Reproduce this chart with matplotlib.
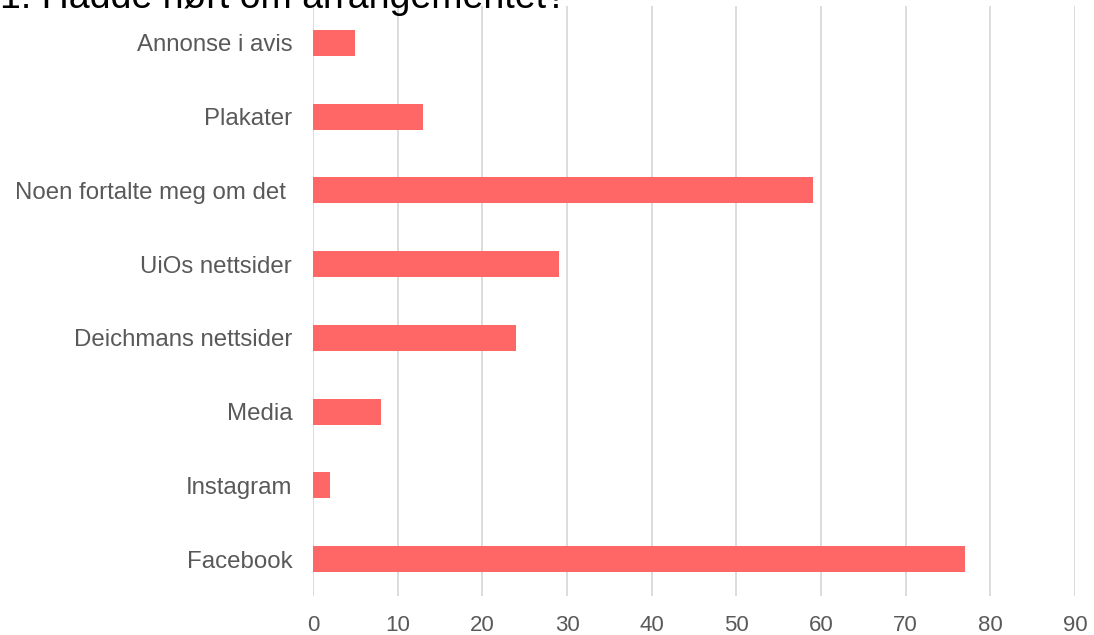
import matplotlib
matplotlib.use('Agg')
from matplotlib import pyplot as plt

plt.rcParams['font.family'] = ['Liberation Sans', 'DejaVu Sans']

kategorier = ['Facebook', 'Instagram', 'Media', 'Deichmans nettsider', 'UiOs nettsider',
              'Noen fortalte meg om det ', 'Plakater', 'Annonse i avis']
antall = [77, 2, 8, 24, 29, 59, 13, 5]
xticks = [0, 10, 20, 30, 40, 50, 60, 70, 80, 90]
tittel = '1. Hadde hørt om arrangementet?'

fig = plt.figure(figsize=(10.94, 6.35), dpi=100)
ax = fig.add_axes([313 / 1094, 39 / 635, 762 / 1094, 590 / 635])

ax.barh(range(len(kategorier)), antall, height=0.35, color='#FF6666', zorder=3)
ax.set_ylim(-0.5, len(kategorier) - 0.5)
ax.set_xlim(0, 90)
ax.set_yticks(range(len(kategorier)))
ax.set_yticklabels(kategorier)
ax.set_xticks(xticks)

ax.grid(axis='x', color='#D9D9D9', linewidth=1.3, zorder=0)
for s in ax.spines.values():
    s.set_visible(False)
ax.tick_params(axis='y', length=0, pad=15, labelsize=17.3, labelcolor='#595959')
ax.tick_params(axis='x', length=0, pad=14, labelsize=16, labelcolor='#595959')

fig.text(0.0, 1 - 8 / 635, tittel, fontsize=27, va='baseline', ha='left', color='black')

fig.savefig('out.png', dpi=100)
